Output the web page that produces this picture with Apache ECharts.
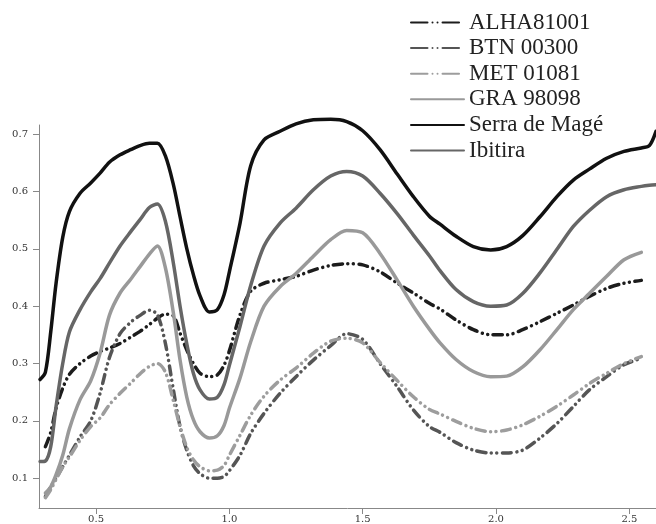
<!DOCTYPE html>
<html>
<head>
<meta charset="utf-8">
<script src="https://cdn.jsdelivr.net/npm/echarts@6/dist/echarts.min.js"></script>
<style>
  html, body { margin: 0; padding: 0; background: #fff; }
  #chart { width: 656px; height: 524px; }
</style>
</head>
<body>
<div id="chart"></div>
<script>
// wavelength grid (µm)
var wavelengths = [0.29, 0.31, 0.33, 0.35, 0.375, 0.40, 0.44, 0.48, 0.515, 0.55, 0.59, 0.63, 0.665, 0.70, 0.73,
  0.76, 0.79, 0.815, 0.84, 0.865, 0.89, 0.925, 0.955, 0.98, 1.0, 1.04, 1.08, 1.13, 1.19, 1.25, 1.315, 1.38,
  1.44, 1.5, 1.565, 1.63, 1.69, 1.75, 1.79, 1.85, 1.915, 1.98, 2.04, 2.10, 2.165, 2.23, 2.29, 2.35, 2.415,
  2.48, 2.545, 2.575, 2.6];

var alha81001 = [null, 0.155, 0.18, 0.222, 0.257, 0.281, 0.3, 0.313, 0.321, 0.327, 0.335, 0.346, 0.356, 0.368, 0.379,
  0.386, 0.383, 0.353, 0.324, 0.3, 0.283, 0.277, 0.28, 0.297, 0.322, 0.385, 0.426, 0.44, 0.446, 0.452, 0.463, 0.471,
  0.474, 0.472, 0.46, 0.44, 0.423, 0.405, 0.395, 0.376, 0.359, 0.35, 0.35, 0.359, 0.373, 0.388, 0.402, 0.417, 0.431,
  0.44, 0.445, null, null];
var btn00300 = [null, 0.068, 0.085, 0.1, 0.12, 0.14, 0.172, 0.2, 0.248, 0.31, 0.352, 0.372, 0.384, 0.393, 0.385,
  0.335, 0.254, 0.19, 0.149, 0.122, 0.108, 0.1, 0.1, 0.103, 0.113, 0.14, 0.178, 0.213, 0.248, 0.277, 0.306, 0.331,
  0.352, 0.342, 0.3, 0.259, 0.219, 0.19, 0.18, 0.162, 0.149, 0.144, 0.144, 0.149, 0.17, 0.196, 0.225, 0.254, 0.277,
  0.298, 0.309, null, null];
var met01081 = [null, 0.066, 0.08, 0.098, 0.12, 0.137, 0.166, 0.19, 0.205, 0.228, 0.248, 0.266, 0.282, 0.295, 0.3,
  0.285, 0.235, 0.19, 0.154, 0.132, 0.12, 0.113, 0.114, 0.122, 0.14, 0.175, 0.21, 0.243, 0.271, 0.292, 0.318, 0.339,
  0.344, 0.336, 0.302, 0.27, 0.242, 0.22, 0.212, 0.199, 0.187, 0.181, 0.184, 0.193, 0.208, 0.226, 0.245, 0.265, 0.283,
  0.3, 0.312, null, null];
var gra98098 = [null, 0.074, 0.085, 0.106, 0.14, 0.186, 0.237, 0.27, 0.318, 0.384, 0.423, 0.447, 0.469, 0.491, 0.505,
  0.467, 0.388, 0.306, 0.242, 0.202, 0.181, 0.17, 0.174, 0.192, 0.222, 0.275, 0.338, 0.4, 0.434, 0.457, 0.487, 0.516,
  0.532, 0.528, 0.492, 0.445, 0.4, 0.36, 0.336, 0.307, 0.286, 0.277, 0.278, 0.294, 0.324, 0.36, 0.394, 0.422, 0.452,
  0.481, 0.494, null, null];
var serraDeMage = [0.272, 0.285, 0.355, 0.44, 0.52, 0.565, 0.597, 0.615, 0.632, 0.651, 0.664, 0.673, 0.68, 0.684, 0.684,
  0.662, 0.612, 0.556, 0.501, 0.455, 0.418, 0.39, 0.394, 0.42, 0.46, 0.545, 0.645, 0.69, 0.705, 0.718, 0.725, 0.726,
  0.722, 0.706, 0.673, 0.63, 0.591, 0.557, 0.543, 0.522, 0.504, 0.498, 0.504, 0.523, 0.556, 0.592, 0.62, 0.639, 0.658,
  0.67, 0.676, 0.68, 0.705];
var ibitira = [0.129, 0.13, 0.155, 0.225, 0.3, 0.355, 0.394, 0.425, 0.448, 0.475, 0.505, 0.53, 0.551, 0.572, 0.578,
  0.548, 0.475, 0.4, 0.335, 0.283, 0.254, 0.238, 0.241, 0.263, 0.297, 0.365, 0.436, 0.505, 0.545, 0.571, 0.603, 0.627,
  0.635, 0.627, 0.597, 0.561, 0.524, 0.488, 0.462, 0.429, 0.408, 0.4, 0.402, 0.422, 0.458, 0.5, 0.539, 0.567, 0.591,
  0.603, 0.609, 0.611, 0.612];

var xTicks = [0.5, 1.0, 1.5, 2.0, 2.5];
var yTicks = [0.1, 0.2, 0.3, 0.4, 0.5, 0.6, 0.7];

var serifFont = "'Liberation Serif', 'DejaVu Serif', serif";
var tickFont = "'DejaVu Serif', serif";
var dashDotDot = [9, 5.5, 0.01, 5.5, 0.01, 5.5];
var legendDash = [16.5, 5, 0.01, 5, 0.01, 5];

function pairs(values) {
  return wavelengths.map(function (w, i) { return [w, values[i]]; });
}

function makeSeries(name, values, color, dashed) {
  return {
    name: name,
    type: "line",
    data: pairs(values),
    smooth: 0.3,
    symbol: "none",
    clip: false,
    connectNulls: false,
    lineStyle: {
      color: color,
      width: 3.5,
      type: dashed ? dashDotDot : "solid",
      cap: "round",
    },
    itemStyle: { color: color },
  };
}

var chart = echarts.init(document.getElementById("chart"));
chart.setOption({
  animation: false,
  backgroundColor: "#fff",
  grid: { left: 39, right: 0, top: 125, bottom: 16 },
  legend: {
    orient: "vertical",
    left: 405,
    top: 6,
    itemWidth: 53,
    itemHeight: 14,
    itemGap: 2.6,
    // hide the marker circle, keep only the line
    itemStyle: { color: "rgba(0,0,0,0)", borderWidth: 0, opacity: 0 },
    textStyle: { fontFamily: serifFont, fontSize: 23, color: "#222", lineHeight: 22 },
    data: [
      { name: "ALHA81001", lineStyle: { type: legendDash } },
      { name: "BTN 00300", lineStyle: { type: legendDash } },
      { name: "MET 01081", lineStyle: { type: legendDash } },
      "GRA 98098",
      "Serra de Magé",
      "Ibitira",
    ],
  },
  xAxis: {
    type: "value",
    min: 0.286,
    max: 2.6,
    splitLine: { show: false },
    axisLine: { lineStyle: { color: "#888", width: 1 } },
    axisTick: { length: 6, lineStyle: { color: "#888" }, customValues: xTicks },
    axisLabel: {
      customValues: xTicks,
      margin: 6,
      fontFamily: tickFont,
      fontSize: 10,
      color: "#333",
      formatter: function (v) { return v.toFixed(1); },
    },
  },
  yAxis: {
    type: "value",
    min: 0.048,
    max: 0.716,
    splitLine: { show: false },
    axisLine: { show: true, lineStyle: { color: "#888", width: 1 } },
    axisTick: { show: true, length: 6, lineStyle: { color: "#888" }, customValues: yTicks },
    axisLabel: {
      customValues: yTicks,
      margin: 11,
      fontFamily: tickFont,
      fontSize: 10,
      color: "#333",
      formatter: function (v) { return v.toFixed(1); },
    },
  },
  series: [
    makeSeries("ALHA81001", alha81001, "#1c1c1c", true),
    makeSeries("BTN 00300", btn00300, "#555555", true),
    makeSeries("MET 01081", met01081, "#9d9d9d", true),
    makeSeries("GRA 98098", gra98098, "#999999", false),
    makeSeries("Serra de Magé", serraDeMage, "#111111", false),
    makeSeries("Ibitira", ibitira, "#666666", false),
  ],
});
</script>
</body>
</html>
